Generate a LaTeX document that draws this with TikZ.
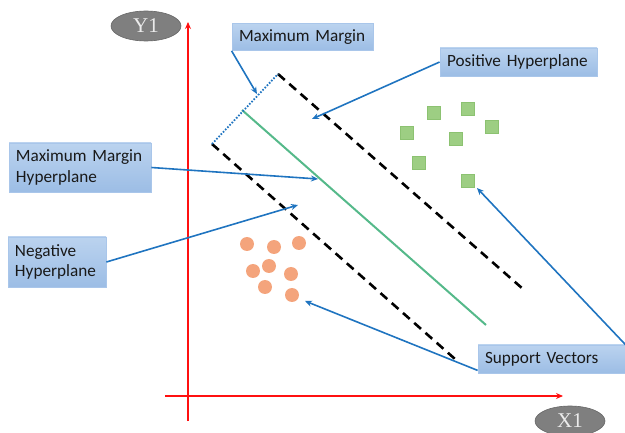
\documentclass[tikz,border=0pt]{standalone}
\usepackage{fontspec}
\setmainfont{Carlito}
\newfontfamily\axisfont{Liberation Serif}
\usetikzlibrary{arrows.meta,shapes.geometric}

\definecolor{boxtop}{HTML}{BBD3EF}
\definecolor{boxbot}{HTML}{9CBDE5}
\definecolor{boxline}{HTML}{A9C6EA}
\definecolor{callout}{HTML}{1F74C0}
\definecolor{axisred}{HTML}{FF1010}
\definecolor{sepgreen}{HTML}{55B98A}
\definecolor{posfill}{HTML}{9DCE83}
\definecolor{posline}{HTML}{8CC271}
\definecolor{negfill}{HTML}{F4A47C}
\definecolor{axisgray}{HTML}{7F7F7F}

\tikzset{
  labelbox/.style={draw=boxline, line width=0.8pt, top color=boxtop, bottom color=boxbot,
    inner xsep=7pt, inner ysep=0pt, align=left, anchor=center,
    font=\fontsize{17.2}{20.5}\selectfont, text=black!90},
  boxsize/.style n args={2}{text width=#1pt-14pt, minimum height=#2pt},
  callarrow/.style={draw=callout, line width=1.6pt, -{Stealth[length=7pt,width=6pt]}},
  axis/.style={draw=axisred, line width=1.8pt, -{Stealth[length=7pt,width=6pt]}},
  axislabel/.style={ellipse, draw=axisgray!80!black, line width=0.6pt, fill=axisgray,
    minimum width=70pt, minimum height=30pt, inner sep=0pt,
    font=\axisfont\fontsize{21}{21}\selectfont, text=white!92!black},
  margin/.style={draw=black, line width=2.6pt, dash pattern=on 9pt off 6pt},
  posdot/.style={rectangle, draw=posline, line width=0.6pt, fill=posfill,
    minimum size=13pt, inner sep=0pt},
  negdot/.style={circle, fill=negfill, minimum size=14pt, inner sep=0pt},
}

\begin{document}
\begin{tikzpicture}[x=1pt,y=-1pt]
  \useasboundingbox (0,0) rectangle (625,433);

  % axes
  \coordinate (ybot) at (188,421);
  \coordinate (ytop) at (188,22);
  \coordinate (xleft) at (165,396);
  \coordinate (xright) at (563,396);
  \draw[axis] (ybot) -- (ytop);
  \draw[axis] (xleft) -- (xright);
  \node[axislabel] (ylab) at (146,26) {Y1};
  \node[axislabel] (xlab) at (570,421) {X1};

  % margin hyperplanes and separating hyperplane
  \coordinate (upA) at (278,74);
  \coordinate (upB) at (523,289);
  \coordinate (loA) at (212,144);
  \coordinate (loB) at (455,359);
  \coordinate (midA) at (242,110);
  \coordinate (midB) at (486,325);
  \draw[margin] (upA) -- (upB);
  \draw[margin] (loA) -- (loB);
  \draw[sepgreen, line width=2pt] (midA) -- (midB);
  \draw[callout, line width=1.8pt, dash pattern=on 1.6pt off 1.6pt] (loA) -- (upA);

  % positive class
  \foreach \px/\py [count=\i] in {434/113, 468/109, 492/127, 407/133, 456/139, 419/163, 468/181}
    \node[posdot] (p\i) at (\px,\py) {};

  % negative class
  \foreach \nx/\ny [count=\i] in {247/244, 274/247, 299/243, 253/271, 269/266, 291/274, 265/287, 292/295}
    \node[negdot] (n\i) at (\nx,\ny) {};

  % labels
  \node[labelbox, boxsize={141}{27}] (mm) at (302.5,37) {Maximum Margin};
  \node[labelbox, boxsize={157}{28}] (pos) at (518.5,62) {Positive Hyperplane};
  \node[labelbox, boxsize={142}{49}] (mmh) at (80,167.5) {Maximum Margin\\Hyperplane};
  \node[labelbox, boxsize={98}{50}] (neg) at (57,262) {Negative\\Hyperplane};
  \node[labelbox, boxsize={147}{28}] (sv) at (551.5,359) {Support Vectors};

  % callout targets
  \coordinate (mmT) at (257,94);
  \coordinate (posT) at (312,119);
  \coordinate (mmhT) at (318,179);
  \coordinate (negT) at (298,205);
  \coordinate (svNeg) at (305,301);
  \coordinate (svPos) at (477,188);

  \draw[callarrow] (mm.south west) -- (mmT);
  \draw[callarrow] (pos.west) -- (posT);
  \draw[callarrow] (mmh.east) -- (mmhT);
  \draw[callarrow] (neg.east) -- (negT);
  \draw[callarrow] ([yshift=3pt]sv.south west) -- (svNeg);
  \draw[callarrow] (sv.north east) -- (svPos);
\end{tikzpicture}
\end{document}
